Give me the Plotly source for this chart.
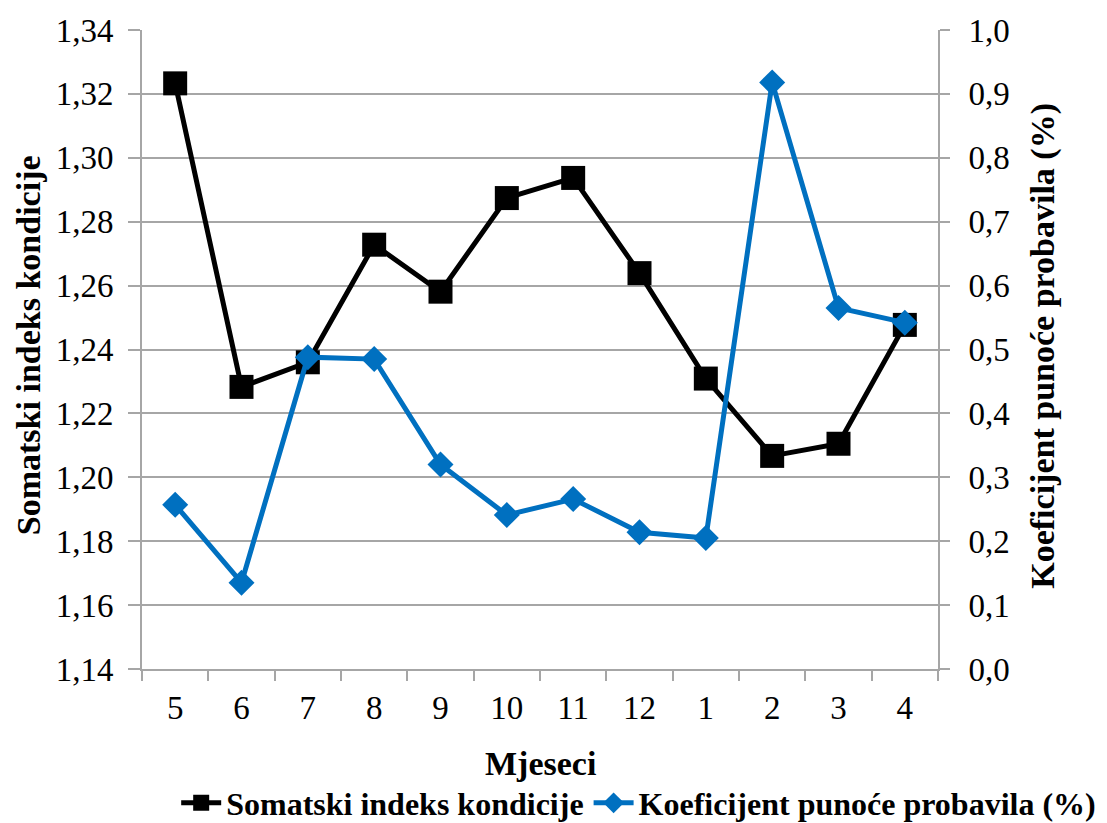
import plotly.graph_objects as go

months = ["5", "6", "7", "8", "9", "10", "11", "12", "1", "2", "3", "4"]
somatski = [1.3233, 1.2283, 1.2360, 1.2728, 1.2581, 1.2874, 1.2937, 1.2639, 1.2309, 1.2067, 1.2105, 1.2477]
koeficijent = [0.257, 0.135, 0.488, 0.485, 0.320, 0.241, 0.266, 0.214, 0.205, 0.918, 0.565, 0.542]

FONT = "Times New Roman, Liberation Serif, serif"
GRID = "#a6a6a6"
TICK_SIZE = 33
TITLE_SIZE = 34

fig = go.Figure()
fig.add_trace(go.Scatter(
    x=months, y=somatski, name="<b>Somatski indeks kondicije</b>",
    mode="lines+markers",
    line=dict(color="black", width=5),
    marker=dict(symbol="square", size=24, color="black"),
    yaxis="y",
))
fig.add_trace(go.Scatter(
    x=months, y=koeficijent, name="<b>Koeficijent punoće probavila (%)</b>",
    mode="lines+markers",
    line=dict(color="#0070C0", width=5),
    marker=dict(symbol="diamond", size=20, color="#0070C0"),
    yaxis="y2",
))

fig.update_layout(
    width=1099, height=815,
    margin=dict(l=134, r=169, t=22, b=154, autoexpand=False),
    paper_bgcolor="white", plot_bgcolor="white",
    separators=",.",
    font=dict(family=FONT, size=TICK_SIZE, color="black"),
    xaxis=dict(
        type="category", tickson="boundaries", automargin=False,
        showline=True, linecolor=GRID, linewidth=2,
        ticks="outside", ticklen=10, tickcolor=GRID, tickwidth=2,
        showgrid=False, ticklabelstandoff=8,
        tickfont=dict(family=FONT, size=TICK_SIZE),
        range=[-0.5, 11.5],
    ),
    yaxis=dict(
        range=[1.14, 1.34], dtick=0.02, tick0=1.14, tickformat=".2f",
        automargin=False,
        showline=True, linecolor=GRID, linewidth=2,
        ticks="outside", ticklen=12, tickcolor=GRID, tickwidth=2,
        showgrid=True, gridcolor=GRID, gridwidth=2,
        zeroline=False, ticklabelstandoff=8,
        tickfont=dict(family=FONT, size=TICK_SIZE),
    ),
    yaxis2=dict(
        range=[0, 1.0], dtick=0.1, tick0=0, tickformat=".1f",
        overlaying="y", side="right", automargin=False,
        showline=True, linecolor=GRID, linewidth=2,
        ticks="outside", ticklen=10, tickcolor=GRID, tickwidth=2,
        showgrid=False, zeroline=False, ticklabelstandoff=12,
        tickfont=dict(family=FONT, size=TICK_SIZE),
    ),
    legend=dict(
        orientation="h", xref="paper", yref="paper",
        x=1.205, xanchor="right", y=-0.2097, yanchor="middle",
        font=dict(family=FONT, size=32),
        itemwidth=40, bgcolor="rgba(0,0,0,0)",
    ),
    annotations=[
        dict(text="<b>Somatski indeks kondicije</b>", xref="paper", yref="paper",
             x=-0.143, y=0.507, textangle=-90, showarrow=False,
             xanchor="center", yanchor="middle", font=dict(family=FONT, size=TITLE_SIZE)),
        dict(text="<b>Koeficijent punoće probavila (%)</b>", xref="paper", yref="paper",
             x=1.132, y=0.506, textangle=-90, showarrow=False,
             xanchor="center", yanchor="middle", font=dict(family=FONT, size=TITLE_SIZE)),
        dict(text="<b>Mjeseci</b>", xref="paper", yref="paper",
             x=0.5, y=-0.148, showarrow=False,
             xanchor="center", yanchor="middle", font=dict(family=FONT, size=TITLE_SIZE)),
    ],
)

fig.write_html("out.html")
